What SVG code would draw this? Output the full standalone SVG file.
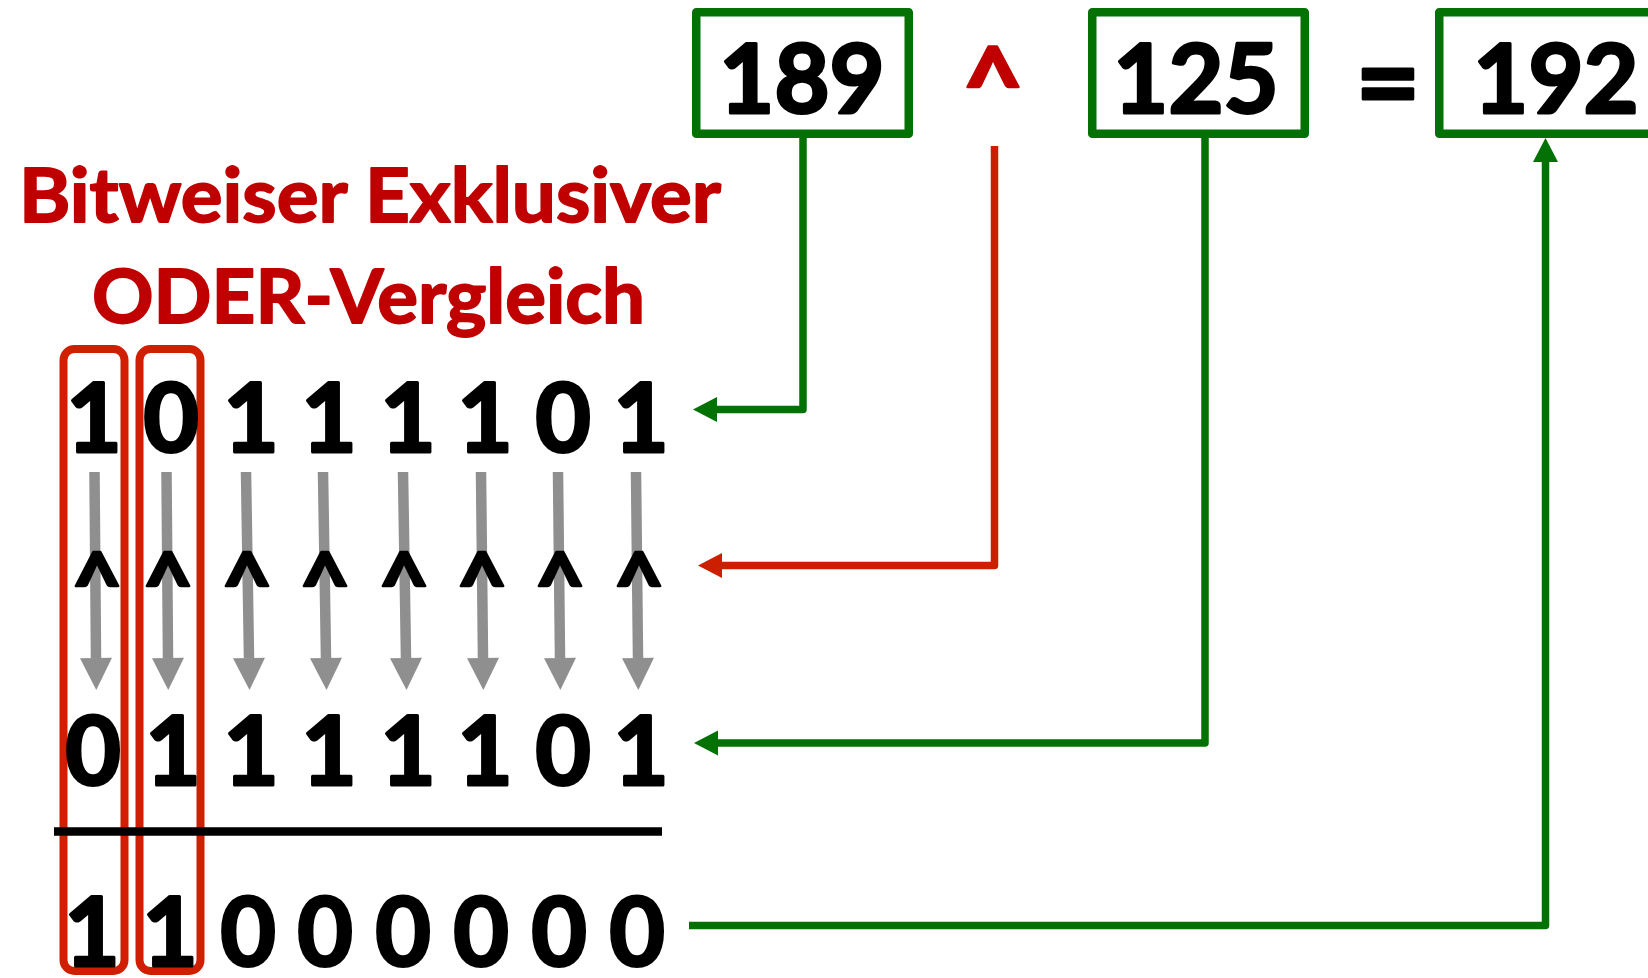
<svg xmlns="http://www.w3.org/2000/svg" width="1648" height="978" viewBox="0 0 1648 978">
  <style>
    .num { font-family: Lato, "Open Sans", "Liberation Sans", sans-serif; font-weight: 700; fill: #000; stroke: #000; stroke-width: 3; stroke-linejoin: round; text-anchor: middle; }
    .bit { font-size: 96px; }
    .big { font-size: 95px; }
    .title { font-family: Lato, "Open Sans", "Liberation Sans", sans-serif; font-weight: 700; font-size: 75px; fill: #c00000; stroke: #c00000; stroke-width: 1.8; stroke-linejoin: round; }
    .box { fill: #fff; stroke: #037103; stroke-width: 8.5; stroke-linejoin: round; }
    .hl { fill: none; stroke: #d01e00; stroke-width: 8; }
    .gray { fill: none; stroke: #8f8f8f; stroke-width: 10.5; }
    .green { fill: none; stroke: #037103; stroke-width: 7.5; stroke-linejoin: round; }
    .red { fill: none; stroke: #cc1f00; stroke-width: 7.5; stroke-linejoin: round; }
    .op { font-family: Lato, "Open Sans", "Liberation Sans", sans-serif; font-weight: 700; text-anchor: middle; stroke-linejoin: round; }
  </style>
  <defs>
    <marker id="head-gray" markerUnits="userSpaceOnUse" markerWidth="32" markerHeight="32" refX="0" refY="16" orient="auto" overflow="visible">
      <polygon points="0,0 32,16 0,32" fill="#8f8f8f"/>
    </marker>
    <marker id="head-green" markerUnits="userSpaceOnUse" markerWidth="24" markerHeight="25" refX="0" refY="12.5" orient="auto" overflow="visible">
      <polygon points="0,0 24,12.5 0,25" fill="#037103"/>
    </marker>
    <marker id="head-red" markerUnits="userSpaceOnUse" markerWidth="24" markerHeight="25" refX="0" refY="12.5" orient="auto" overflow="visible">
      <polygon points="0,0 24,12.5 0,25" fill="#cc1f00"/>
    </marker>
  </defs>

  <!-- heading -->
  <g id="title">
    <text class="title" x="19" y="222" textLength="702" lengthAdjust="spacingAndGlyphs">Bitweiser Exklusiver</text>
    <text class="title" x="92" y="323" textLength="553" lengthAdjust="spacingAndGlyphs">ODER-Vergleich</text>
  </g>

  <!-- decimal operands and result -->
  <g id="box-189">
    <rect class="box" x="696.25" y="12.25" width="212.5" height="121.5"/>
    <text class="num big" x="802" y="113">189</text>
  </g>
  <g id="op-xor">
    <text class="op" x="993" y="123" font-size="106" fill="#c00000" stroke="#c00000" stroke-width="2.5">^</text>
  </g>
  <g id="box-125">
    <rect class="box" x="1092.25" y="12.25" width="212.5" height="121.5"/>
    <text class="num big" x="1196" y="113">125</text>
  </g>
  <g id="op-eq">
    <text class="op" x="1388" y="121" font-size="112" fill="#000" stroke="#000" stroke-width="3">=</text>
  </g>
  <g id="box-192">
    <rect class="box" x="1439.25" y="12.25" width="230" height="121.5"/>
    <text class="num big" x="1556" y="113">192</text>
  </g>

  <!-- highlighted columns -->
  <g id="highlight-bit7">
    <rect class="hl" x="63.5" y="349" width="61" height="622" rx="11"/>
  </g>
  <g id="highlight-bit6">
    <rect class="hl" x="139.5" y="349" width="61" height="622" rx="11"/>
  </g>

  <!-- per-bit comparison arrows -->
  <g id="bit-arrows" class="gray">
    <path d="M94.5 472 L96 658" marker-end="url(#head-gray)"/>
    <path d="M166.5 472 L168 658" marker-end="url(#head-gray)"/>
    <path d="M246 472 L249 658" marker-end="url(#head-gray)"/>
    <path d="M323 472 L326 658" marker-end="url(#head-gray)"/>
    <path d="M403 472 L406 658" marker-end="url(#head-gray)"/>
    <path d="M481 472 L483 658" marker-end="url(#head-gray)"/>
    <path d="M558 472 L560 658" marker-end="url(#head-gray)"/>
    <path d="M636 472 L638 658" marker-end="url(#head-gray)"/>
  </g>
  <g id="bit-ops" class="op" font-size="88" fill="#000" stroke="#000" stroke-width="2.5">
    <text x="97" y="616">^</text>
    <text x="168" y="616">^</text>
    <text x="247" y="616">^</text>
    <text x="325" y="616">^</text>
    <text x="404" y="616">^</text>
    <text x="482" y="616">^</text>
    <text x="560" y="616">^</text>
    <text x="639" y="616">^</text>
  </g>

  <!-- binary rows -->
  <g id="row-189" class="num bit">
    <text x="94" y="452">1</text>
    <text x="171" y="452">0</text>
    <text x="251" y="452">1</text>
    <text x="329" y="452">1</text>
    <text x="408" y="452">1</text>
    <text x="485" y="452">1</text>
    <text x="563" y="452">0</text>
    <text x="641" y="452">1</text>
  </g>
  <g id="row-125" class="num bit">
    <text x="93" y="785">0</text>
    <text x="173" y="785">1</text>
    <text x="251" y="785">1</text>
    <text x="329" y="785">1</text>
    <text x="408" y="785">1</text>
    <text x="485" y="785">1</text>
    <text x="563" y="785">0</text>
    <text x="641" y="785">1</text>
  </g>
  <line id="sum-line" x1="54" y1="831.5" x2="662" y2="831.5" stroke="#000" stroke-width="8.3"/>
  <g id="row-192" class="num bit">
    <text x="92" y="966">1</text>
    <text x="170" y="966">1</text>
    <text x="248" y="966">0</text>
    <text x="325" y="966">0</text>
    <text x="403" y="966">0</text>
    <text x="481" y="966">0</text>
    <text x="559" y="966">0</text>
    <text x="637" y="966">0</text>
  </g>

  <!-- connectors -->
  <g id="connectors">
    <path class="green" d="M803 138 L803 409.5 L717 409.5" marker-end="url(#head-green)"/>
    <path class="red" d="M994.5 146 L994.5 565.5 L722 565.5" marker-end="url(#head-red)"/>
    <path class="green" d="M1205 138 L1205 743 L718 743" marker-end="url(#head-green)"/>
    <path class="green" d="M689 925.5 L1545.5 925.5 L1545.5 162" marker-end="url(#head-green)"/>
  </g>
</svg>
